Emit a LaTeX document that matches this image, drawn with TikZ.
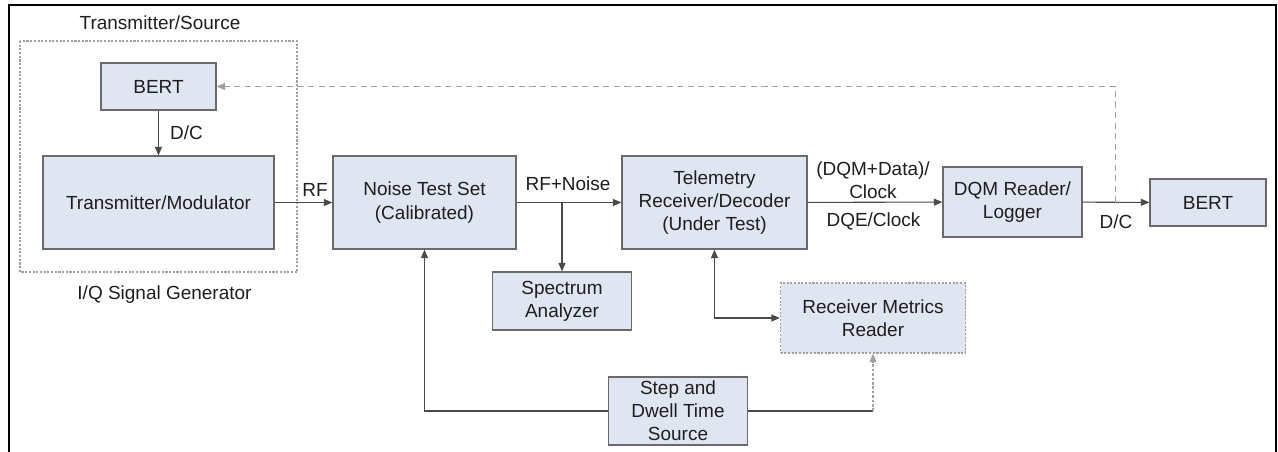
\documentclass[tikz,border=0pt]{standalone}
\usepackage{fontspec}
\setmainfont{Liberation Sans}
\usepackage{tikz}
\usetikzlibrary{arrows.meta,positioning,calc}
\definecolor{ink}{HTML}{1E1E1E}
\definecolor{edge}{HTML}{6A6A6A}
\definecolor{wire}{HTML}{4A4A4A}
\definecolor{faint}{HTML}{A0A0A0}
\definecolor{boxfill}{HTML}{DFE6F1}

\begin{document}
\begin{tikzpicture}[
  font=\fontsize{10.8}{13.2}\selectfont\color{ink},
  blk/.style={draw=edge,fill=boxfill,line width=0.7pt,align=center,inner sep=2pt},
  blkdot/.style={blk,draw=faint,dash pattern=on 1.2pt off 0.9pt},
  sig/.style={draw=wire,line width=0.6pt,-{Triangle[length=1.7mm,width=1.4mm]}},
  fb/.style={draw=faint,line width=0.6pt,dash pattern=on 3.5pt off 2.5pt,-{Triangle[length=1.7mm,width=1.4mm]}},
  lbl/.style={inner sep=1pt,align=center}
]
  \useasboundingbox (0,0) rectangle (25.56,-9.02);
  \draw[black,line width=1.2pt] (0.18,-9.1) -- (0.18,-0.10) -- (25.52,-0.10) -- (25.52,-9.1);

  % transmitter group
  \draw[faint,line width=0.6pt,dash pattern=on 1.2pt off 0.9pt] (0.40,-0.82) rectangle (5.94,-5.44);
  \node[lbl] (srclbl) at (3.20,-0.45) {Transmitter/Source};
  \node[lbl] (iqlbl)  at (3.29,-5.90) {I/Q Signal Generator};

  \node[blk,minimum width=2.30cm,minimum height=0.94cm] (bertA) at (3.17,-1.73)  {BERT};
  \node[blk,minimum width=4.62cm,minimum height=1.86cm] (txmod) at (3.17,-4.05)  {Transmitter/Modulator};
  \node[blk,minimum width=3.66cm,minimum height=1.86cm] (noise) at (8.49,-4.05)  {Noise Test Set\\(Calibrated)};
  \node[blk,minimum width=3.70cm,minimum height=1.86cm] (tlm)   at (14.29,-4.05) {Telemetry\\Receiver/Decoder\\(Under Test)};
  \node[blk,minimum width=2.78cm,minimum height=1.16cm] (spec)  at (11.24,-6.02) {Spectrum\\Analyzer};
  \node[blkdot,minimum width=3.70cm,minimum height=1.40cm] (rmr) at (17.46,-6.36) {Receiver Metrics\\Reader};
  \node[blk,minimum width=2.78cm,minimum height=1.36cm] (dwell) at (13.56,-8.22) {Step and\\Dwell Time\\Source};
  \node[blk,minimum width=2.78cm,minimum height=1.40cm] (dqm)   at (20.25,-4.04) {DQM Reader/\\Logger};
  \node[blk,minimum width=2.32cm,minimum height=0.94cm] (bertB) at (24.16,-4.05) {BERT};

  \coordinate (tap) at (22.31,-4.05);
  \coordinate (bend) at (dwell.east -| rmr.south);

  \draw[sig] (bertA) -- (txmod);
  \draw[sig] (txmod) -- (noise);
  \draw[sig] (noise) -- (tlm);
  \draw[sig] (noise.east -| spec.north) -- (spec.north);
  \draw[sig] (tlm) -- (dqm);
  \draw[sig] (dqm) -- (bertB);
  \draw[sig,{Triangle[length=1.7mm,width=1.4mm]}-{Triangle[length=1.7mm,width=1.4mm]}] (tlm.south) |- (rmr.west);
  \draw[sig] (dwell.west) -| (noise.south);
  \draw[wire,line width=0.6pt] (dwell.east) -- (bend);
  \draw[sig,draw=faint,dash pattern=on 1.5pt off 1pt] (bend) -- (rmr.south);
  \draw[fb] (tap) |- (bertA.east);

  \node[lbl,anchor=west] (dc1)  at (3.36,-2.66)  {D/C};
  \node[lbl] (rf)   at (6.30,-3.80)  {RF};
  \node[lbl] (rfn)  at (11.36,-3.68) {RF+Noise};
  \node[lbl] (dqmd) at (17.46,-3.60) {(DQM+Data)/\\Clock};
  \node[lbl] (dqe)  at (17.47,-4.43) {DQE/Clock};
  \node[lbl] (dc2)  at (22.32,-4.43) {D/C};
\end{tikzpicture}
\end{document}
